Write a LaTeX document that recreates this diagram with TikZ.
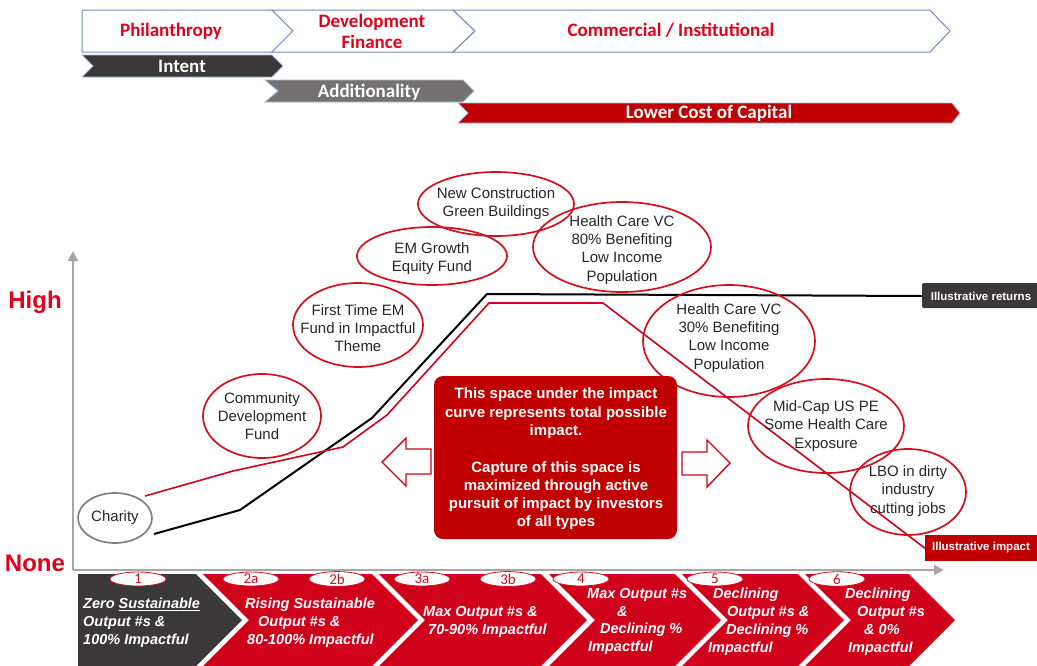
\documentclass[tikz,border=0pt]{standalone}
\usepackage{fontspec}
\setmainfont{Liberation Sans}
\newfontfamily\calib{Carlito}
\usetikzlibrary{arrows.meta,shapes.geometric}

\definecolor{bannerline}{RGB}{109,143,191}
\definecolor{bannerred}{RGB}{226,0,26}
\definecolor{darkbar}{RGB}{58,56,56}
\definecolor{midgray}{RGB}{118,113,113}
\definecolor{deepred}{RGB}{192,0,0}
\definecolor{chevred}{RGB}{208,2,27}
\definecolor{ringred}{RGB}{210,16,30}
\definecolor{axisgray}{RGB}{166,166,166}
\definecolor{inktext}{RGB}{38,38,38}

\begin{document}
\begin{tikzpicture}[x=1pt,y=-1pt,
  phase/.style={draw=bannerline, line width=1pt, fill=white, line join=miter},
  bar/.style={draw=bannerline!60, line width=0.8pt},
  phasetext/.style={font=\calib\bfseries\fontsize{19}{21}\selectfont, text=bannerred, align=center, inner sep=0pt},
  bartext/.style={font=\calib\bfseries\fontsize{19}{21}\selectfont, text=white, inner sep=0pt},
  levellabel/.style={font=\bfseries\fontsize{24}{26}\selectfont, text=bannerred, inner sep=0pt, anchor=base},
  axis/.style={draw=axisgray, line width=2.4pt, -{Triangle[length=10pt,width=10pt]}},
  returns/.style={draw=black, line width=2pt, line join=miter},
  impact/.style={draw=chevred, line width=1.6pt, line join=miter},
  bubble/.style={draw=ringred, line width=1.7pt},
  graybubble/.style={draw=gray, line width=1.7pt},
  bubbletext/.style={font=\fontsize{15}{18.2}\selectfont, text=inktext, align=center, inner sep=0pt},
  notebox/.style={fill=deepred, rounded corners=9pt},
  notetext/.style={font=\bfseries\fontsize{15}{18.3}\selectfont, text=white, align=center, inner sep=0pt},
  hollowarrow/.style={draw=chevred, line width=1.4pt, fill=white, line join=miter},
  curvelabel/.style={font=\bfseries\fontsize{11.5}{13}\selectfont, text=white, inner sep=0pt},
  stage/.style={fill=chevred},
  stagetext/.style={font=\bfseries\itshape\fontsize{14.5}{17.8}\selectfont, text=white, align=left, inner sep=0pt, anchor=north west},
  tag/.style={ellipse, draw=ringred, fill=white, line width=0.8pt, minimum width=56pt, minimum height=14pt, inner sep=0pt,
              font=\calib\fontsize{15}{15}\selectfont, text=ringred}
]
\useasboundingbox (0,0) rectangle (1037,665);
\clip (0,0) rectangle (1037,665);

% ---- investor phases banner ----
\draw[phase] (82,10) -- (272,10) -- (293,31) -- (272,52) -- (82,52) -- cycle;
\draw[phase] (272,10) -- (453,10) -- (475,31) -- (453,52) -- (272,52) -- (293,31) -- cycle;
\draw[phase] (453,10) -- (930,10) -- (950,31) -- (930,52) -- (453,52) -- (475,31) -- cycle;
\node[phasetext, anchor=base] (phil) at (171,36) {Philanthropy};
\node[phasetext] (devfin) at (372,31) {Development\\Finance};
\node[phasetext, anchor=base] (comm) at (671,36) {Commercial / Institutional};

% ---- motivation bars ----
\draw[bar, fill=darkbar] (82,55) -- (272,55) -- (283,66) -- (272,77) -- (82,77) -- (93,66) -- cycle;
\draw[bar, fill=midgray] (265,80) -- (463,80) -- (474,91) -- (463,102) -- (265,102) -- (278,91) -- cycle;
\draw[bar, fill=deepred] (458,103) -- (952,103) -- (960,113) -- (952,123) -- (458,123) -- (468,113) -- cycle;
\node[bartext, anchor=base] (intent) at (182,72) {Intent};
\node[bartext, anchor=base] (addit) at (369,97) {Additionality};
\node[bartext, anchor=base] (lcc) at (709,118) {Lower Cost of Capital};

% ---- axes ----
\coordinate (origin) at (73,570);
\coordinate (ytop) at (73,251);
\coordinate (xend) at (944,570);
\draw[axis] (origin) -- (ytop);
\draw[axis] (origin) -- (xend);
\node[levellabel] (high) at (35,308) {High};
\node[levellabel] (none) at (35,571) {None};

% ---- returns and impact curves ----
\coordinate (r0) at (154,534);
\coordinate (r1) at (240,510);
\coordinate (r2) at (372,418);
\coordinate (r3) at (487,294);
\coordinate (r4) at (922,296);
\draw[returns] (r0) -- (r1) -- (r2) -- (r3) -- (r4);

\coordinate (i0) at (145,496);
\coordinate (i1) at (233,471);
\coordinate (i2) at (343,447);
\coordinate (i3) at (387,415);
\coordinate (i4) at (489,303);
\coordinate (i5) at (603,303);
\coordinate (i6) at (926,549);
\draw[impact] (i0) -- (i1) -- (i2) -- (i3) -- (i4) -- (i5) -- (i6);

% ---- investment examples ----
\node[bubbletext] (charity) at (115,518) {Charity};
\draw[graybubble] (charity.center) ellipse [x radius=37pt, y radius=25pt];

\node[bubbletext] (cdf) at (262,416) {Community\\Development\\Fund};
\draw[bubble] (cdf.center) ellipse [x radius=59pt, y radius=42pt];

\node[bubbletext] (ftem) at (358,328) {First Time EM\\Fund in Impactful\\Theme};
\draw[bubble] (358,325) ellipse [x radius=65pt, y radius=42pt];

\node[bubbletext] (emg) at (432,259) {EM Growth\\Equity Fund};
\draw[bubble] (432,256) ellipse [x radius=75pt, y radius=29pt];

\node[bubbletext] (ncgb) at (496,204) {New Construction\\Green Buildings};
\draw[bubble] (ncgb.center) ellipse [x radius=78pt, y radius=32pt];

\node[bubbletext] (hc80) at (622,250) {Health Care VC\\80\% Benefiting\\Low Income\\Population};
\draw[bubble] (622,247) ellipse [x radius=89pt, y radius=45pt];

\node[bubbletext] (hc30) at (729,338) {Health Care VC\\30\% Benefiting\\Low Income\\Population};
\draw[bubble] (729,341) ellipse [x radius=86pt, y radius=56pt];

\node[bubbletext] (midcap) at (826,426) {Mid-Cap US PE\\Some Health Care\\Exposure};
\draw[bubble] (midcap.center) ellipse [x radius=78pt, y radius=47pt];

\node[bubbletext] (lbo) at (908,491) {LBO in dirty\\industry\\cutting jobs};
\draw[bubble] (908,492) ellipse [x radius=58pt, y radius=43pt];

% ---- note on the area under the impact curve ----
\fill[notebox] (434,376) rectangle (677,539);
\node[notetext] (note) at (556,459) {This space under the impact\\curve represents total possible\\impact.\\[18.3pt]Capture of this space is\\maximized through active\\pursuit of impact by investors\\of all types};
\draw[hollowarrow] (382,462) -- (406,438) -- (406,449) -- (431,449) -- (431,474) -- (406,474) -- (406,486) -- cycle;
\draw[hollowarrow] (730,463) -- (707,440) -- (707,452) -- (682,452) -- (682,475) -- (707,475) -- (707,487) -- cycle;

% ---- curve labels ----
\fill[darkbar, rounded corners=2pt] (922,283) rectangle (1040,308);
\node[curvelabel] (retlab) at (981,296) {Illustrative returns};
\fill[deepred] (925,535) rectangle (1040,561);
\node[curvelabel] (implab) at (981,548) {Illustrative impact};

% ---- stages along the horizontal axis ----
\fill[darkbar] (78,574) -- (196,574) -- (242,620) -- (196,666) -- (78,666) -- cycle;
\fill[stage] (203,574) -- (372,574) -- (418,620) -- (372,666) -- (203,666) -- (249,620) -- cycle;
\fill[stage] (379,574) -- (541,574) -- (587,620) -- (541,666) -- (379,666) -- (425,620) -- cycle;
\fill[stage] (549,574) -- (675,574) -- (721,620) -- (675,666) -- (549,666) -- (595,620) -- cycle;
\fill[stage] (682,574) -- (798,574) -- (844,620) -- (798,666) -- (682,666) -- (728,620) -- cycle;
\fill[stage] (805,574) -- (909,574) -- (955,620) -- (909,666) -- (805,666) -- (851,620) -- cycle;

\node[stagetext] (s1) at (83,598) {Zero \underline{Sustainable}\\Output \#s \&\\100\% Impactful};
\node[stagetext] (s2) at (245,598) {Rising Sustainable\\\hspace*{13pt}Output \#s \&\\\hspace*{2pt}80-100\% Impactful};
\node[stagetext] (s3) at (423,606) {Max Output \#s \&\\\hspace*{5pt}70-90\% Impactful};
\node[stagetext] (s4) at (587,588) {Max Output \#s\\\hspace*{30pt}\&\\\hspace*{13pt}Declining \%\\\hspace*{1pt}Impactful};
\node[stagetext] (s5) at (708,588) {\hspace*{5pt}Declining\\\hspace*{19pt}Output \#s \&\\\hspace*{18pt}Declining \%\\Impactful};
\node[stagetext] (s6) at (845,588) {Declining\\\hspace*{12pt}Output \#s\\\hspace*{19pt}\& 0\%\\\hspace*{3pt}Impactful};

\node[tag] (t1) at (138,579) {1};
\node[tag] (t2a) at (251,579) {2a};
\node[tag] (t2b) at (337,579) {2b};
\node[tag] (t3a) at (422,579) {3a};
\node[tag] (t3b) at (508,579) {3b};
\node[tag] (t4) at (581,579) {4};
\node[tag] (t5) at (715,579) {5};
\node[tag] (t6) at (837,579) {6};
\end{tikzpicture}
\end{document}
